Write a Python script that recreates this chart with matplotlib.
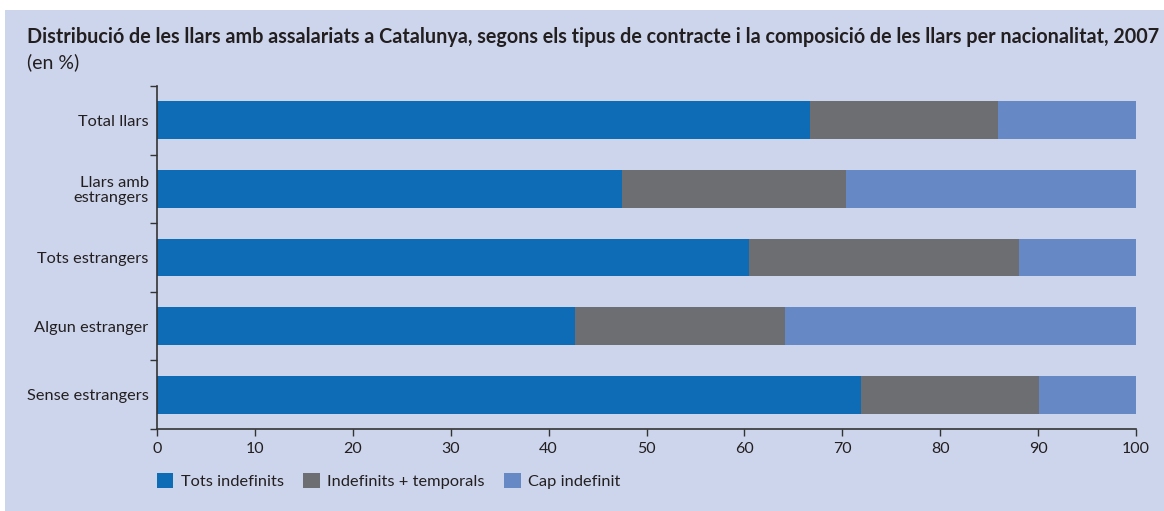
import matplotlib
matplotlib.use("Agg")
import matplotlib.pyplot as plt
from matplotlib.patches import Rectangle, Patch

categories = ["Total llars", "Llars amb\nestrangers", "Tots estrangers", "Algun estranger", "Sense estrangers"]
series_names = ["Tots indefinits", "Indefinits + temporals", "Cap indefinit"]
tots_indefinits = [66.7, 47.5, 60.5, 42.7, 71.9]
indef_temporals = [19.2, 22.9, 27.5, 21.4, 18.2]
cap_indefinit = [14.1, 29.6, 12.0, 35.9, 9.9]
x_ticks = [0, 10, 20, 30, 40, 50, 60, 70, 80, 90, 100]

colors = ["#0D6CB5", "#6D6E71", "#6689C6"]
bg = "#CDD5EC"
txt = "#231F20"

plt.rcParams['font.family'] = ['Lato', 'DejaVu Sans']

fig = plt.figure(figsize=(11.64, 5.11), dpi=100)
fig.patch.set_facecolor("white")
fig.patches.append(Rectangle((5/1164, 0), 1, 1 - 10/511, transform=fig.transFigure,
                             facecolor=bg, edgecolor="none", zorder=-10))

ax = fig.add_axes([157/1164, 1 - 429/511, (1136-157)/1164, (429-86)/511])
ax.set_facecolor(bg)
ax.patch.set_alpha(0)

ypos = list(range(len(categories)))
left = [0]*len(categories)
for vals, c in zip([tots_indefinits, indef_temporals, cap_indefinit], colors):
    ax.barh(ypos, vals, left=left, height=0.55, color=c, edgecolor="none")
    left = [l + v for l, v in zip(left, vals)]

ax.set_xlim(0, 100)
ax.set_ylim(len(categories) - 0.5, -0.5)
ax.set_xticks(x_ticks)
ax.set_xticklabels([str(t) for t in x_ticks], fontsize=11.5, color=txt)
ax.set_yticks(ypos)
ax.set_yticklabels(categories, fontsize=11.8, color=txt, linespacing=1.05)
ax.tick_params(axis='y', length=0, pad=6)
ax.set_yticks([i - 0.5 for i in range(len(categories) + 1)], minor=True)
ax.tick_params(axis='y', which='minor', length=5, color="#333333", width=1)
ax.tick_params(axis='x', length=5, color="#333333", width=1, pad=4)
for s in ["top", "right"]:
    ax.spines[s].set_visible(False)
for s in ["left", "bottom"]:
    ax.spines[s].set_color("#333333")
    ax.spines[s].set_linewidth(1.2)

fig.text(27/1164, 1 - 37/511, "Distribució de les llars amb assalariats a Catalunya, segons els tipus de contracte i la composició de les llars per nacionalitat, 2007",
         fontsize=14.2, fontweight="bold", color=txt, va="center", ha="left")
fig.text(27/1164, 1 - 62/511, "(en %)", fontsize=14, color=txt, va="center", ha="left")

handles = [Patch(facecolor=c, edgecolor="none") for c in colors]
fig.legend(handles, series_names, loc="center left", bbox_to_anchor=(157/1164, 1 - 481/511),
           ncol=3, frameon=False, fontsize=11.8, handlelength=1.0, handleheight=1.0,
           handletextpad=0.45, columnspacing=1.2, labelcolor=txt,
           borderpad=0, borderaxespad=0)

fig.savefig("out.png", dpi=100, facecolor=fig.get_facecolor())
